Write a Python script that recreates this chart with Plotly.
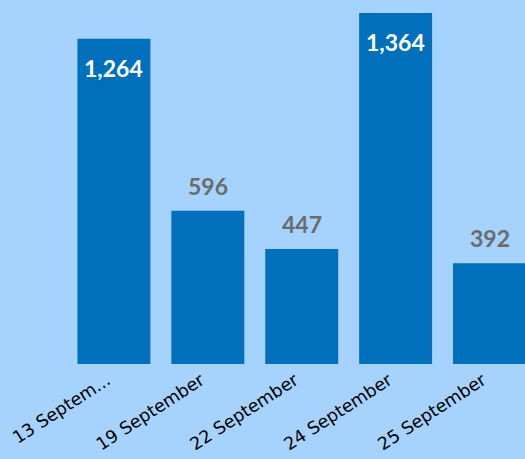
import plotly.graph_objects as go

categories = ["13 Septem...", "19 September", "22 September", "24 September", "25 September"]
values = [1264, 596, 447, 1364, 392]
label_inside = [True, False, False, True, False]

bar_color = "#0070BC"
bg_color = "#A5D3FD"

fig = go.Figure(go.Bar(
    x=list(range(len(categories))), y=values,
    marker=dict(color=bar_color, line=dict(width=0)),
    hoverinfo="skip",
))

for i, (v, inside) in enumerate(zip(values, label_inside)):
    fig.add_annotation(
        x=i, y=v, text=f"{v:,}", showarrow=False,
        yanchor="middle", xanchor="center",
        yshift=-29 if inside else 25,
        font=dict(family="Lato", size=23, color="#FFFFFF" if inside else "#6B6B6B", weight="bold"),
    )

fig.update_layout(
    width=525, height=459,
    margin=dict(l=66.5, r=0, t=13, b=95),
    paper_bgcolor=bg_color, plot_bgcolor=bg_color,
    bargap=0.223,
    showlegend=False,
    xaxis=dict(
        range=[-0.5, 4.378],
        tickmode="array", tickvals=list(range(len(categories))), ticktext=categories,
        tickangle=-33, showgrid=False, zeroline=False, showline=False, ticks="",
        ticklabelshift=-7, ticklabelstandoff=2,
        tickfont=dict(family="DejaVu Sans", size=17.5, color="#000000"),
    ),
    yaxis=dict(range=[0, 1364], visible=False, showgrid=False, zeroline=False),
)

fig.write_html(
    "out.html",
    config={"displayModeBar": False},
    post_script="document.body.style.margin='0';document.body.style.overflow='hidden';",
)
